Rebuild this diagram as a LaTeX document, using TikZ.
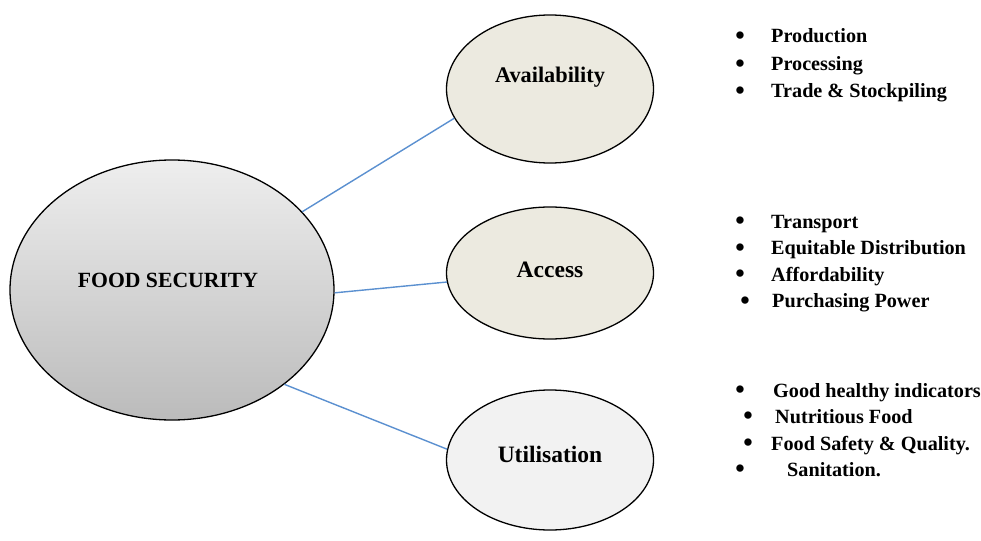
\documentclass[tikz,border=0pt]{standalone}
\usepackage{fontspec}
\setmainfont{Liberation Serif}
\usetikzlibrary{shapes.geometric}
\definecolor{beigefill}{HTML}{ECEAE0}
\definecolor{greyfill}{HTML}{F2F2F2}
\definecolor{shadetop}{HTML}{EEEEEE}
\definecolor{shadebot}{HTML}{BBBBBB}
\definecolor{linkblue}{HTML}{5B90D0}
\tikzset{
  oval/.style={ellipse, draw=black, line width=1.3pt, inner sep=0pt},
  lbl/.style={anchor=base, inner sep=0pt, font=\bfseries},
  bul/.style={anchor=base, inner sep=0pt, yshift=-1.5pt, font=\fontsize{27}{30}\selectfont\bfseries},
  item/.style={anchor=base west, inner sep=0pt, font=\fontsize{20.2}{24}\selectfont\bfseries},
  link/.style={draw=linkblue, line width=1.4pt}
}
\begin{document}
\begin{tikzpicture}[x=1pt,y=-1pt]
\useasboundingbox (0,0) rectangle (981,540);
% ellipses
\node[oval, minimum width=324pt, minimum height=260pt, top color=shadetop, bottom color=shadebot] (big) at (172,290) {};
\node[oval, minimum width=207pt, minimum height=148pt, fill=beigefill] (avail) at (550,89) {};
\node[oval, minimum width=207pt, minimum height=132pt, fill=beigefill] (access) at (550,273) {};
\node[oval, minimum width=207pt, minimum height=140pt, fill=greyfill] (util) at (550,460) {};
% labels
\node[lbl, font=\fontsize{21.7}{26}\selectfont\bfseries] (bigT) at (168,287) {FOOD SECURITY};
\node[lbl, font=\fontsize{22.3}{26}\selectfont\bfseries] (availT) at (550,83) {Availability};
\node[lbl, font=\fontsize{23.5}{28}\selectfont\bfseries] (accessT) at (550,277) {Access};
\node[lbl, font=\fontsize{23.5}{28}\selectfont\bfseries] (utilT) at (550,462) {Utilisation};
% connectors
\draw[link] (big.31) -- (avail.197);
\draw[link] (big.-1) -- (access.185);
\draw[link] (big.-40) -- (util.174);
% lists
\node[bul] (b1) at (740,43) {\textbullet};
\node[item] (t1) at (771,43) {Production};
\node[bul] (b2) at (740,71) {\textbullet};
\node[item] (t2) at (771,71) {Processing};
\node[bul] (b3) at (740,98) {\textbullet};
\node[item] (t3) at (771,98) {Trade \& Stockpiling};
\node[bul] (b4) at (740,228) {\textbullet};
\node[item] (t4) at (771,228) {Transport};
\node[bul] (b5) at (740,254.5) {\textbullet};
\node[item] (t5) at (771,254.5) {Equitable Distribution};
\node[bul] (b6) at (740,281) {\textbullet};
\node[item] (t6) at (771,281) {Affordability};
\node[bul] (b7) at (745,307.5) {\textbullet};
\node[item] (t7) at (772,307.5) {Purchasing Power};
\node[bul] (b8) at (740,397) {\textbullet};
\node[item] (t8) at (773,397) {Good healthy indicators};
\node[bul] (b9) at (748,423) {\textbullet};
\node[item] (t9) at (775,423) {Nutritious Food};
\node[bul] (b10) at (748,450) {\textbullet};
\node[item] (t10) at (771,450) {Food Safety \& Quality.};
\node[bul] (b11) at (740,476) {\textbullet};
\node[item] (t11) at (787,476) {Sanitation.};
\end{tikzpicture}
\end{document}
